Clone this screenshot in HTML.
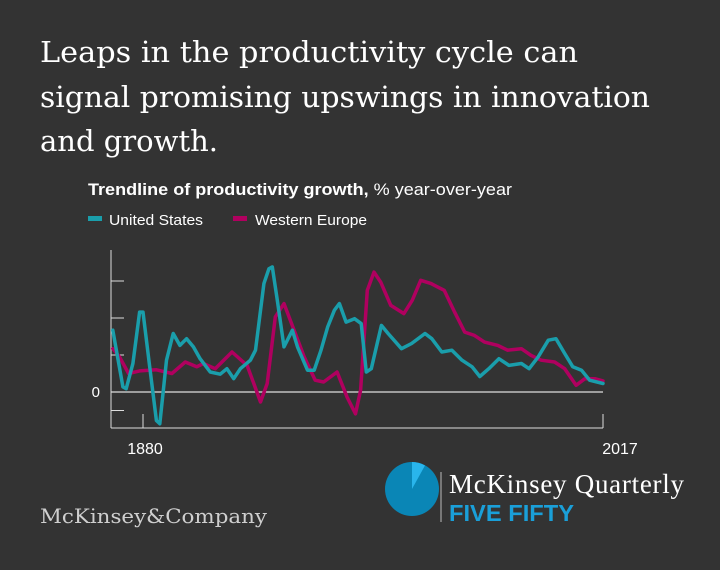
<!DOCTYPE html>
<html><head><meta charset="utf-8"><style>
html,body{margin:0;padding:0;background:#333333;}
svg{display:block;font-family:"Liberation Sans",sans-serif;}
</style></head><body>
<svg id="chart" width="720" height="570" viewBox="0 0 720 570">
<rect width="720" height="570" fill="#333333"/>
<g font-family="DejaVu Serif, serif" font-size="29" fill="#ffffff">
<text x="40" y="62" textLength="538" lengthAdjust="spacingAndGlyphs">Leaps in the productivity cycle can</text>
<text x="40" y="107" textLength="610" lengthAdjust="spacingAndGlyphs">signal promising upswings in innovation</text>
<text x="40" y="151" textLength="178" lengthAdjust="spacingAndGlyphs">and growth.</text>
</g>
<text x="88" y="195" font-size="16.5" fill="#fff" textLength="424" lengthAdjust="spacingAndGlyphs"><tspan font-weight="bold">Trendline of productivity growth,</tspan> % year-over-year</text>
<g>
<rect x="88" y="216" width="14" height="5" fill="#1a9eab"/>
<text x="109" y="225" font-size="15" fill="#fff" textLength="94" lengthAdjust="spacingAndGlyphs">United States</text>
<rect x="233" y="216" width="14" height="5" fill="#b0005f"/>
<text x="255" y="225" font-size="15" fill="#fff" textLength="112" lengthAdjust="spacingAndGlyphs">Western Europe</text>
</g>
<g id="plot"></g>
<g>
<circle cx="412" cy="489" r="27" fill="#0a86b6"/>
<path d="M412,489 L412,462 A27,27 0 0 1 425,465.5 Z" fill="#29b5ec"/>
<line x1="441" y1="472" x2="441" y2="522" stroke="#bbb" stroke-width="1"/>
<text x="449" y="493" font-family="Liberation Serif, serif" font-size="27" fill="#fff" textLength="235" lengthAdjust="spacing">McKinsey Quarterly</text>
<text x="449" y="521" font-size="23" font-weight="bold" fill="#1a9fd8" textLength="125" lengthAdjust="spacingAndGlyphs">FIVE FIFTY</text>
</g>
<text x="40" y="523" font-family="DejaVu Serif, serif" font-size="20" fill="#cfcfcf" textLength="227" lengthAdjust="spacingAndGlyphs">McKinsey&amp;Company</text>
</svg>
<script>
const usYears=[1871,1874,1875,1877,1879,1880,1882,1884,1885,1887,1889,1891,1893,1895,1897,1900,1903,1905,1907,1909,1912,1913.5,1916,1917.5,1918.5,1920,1922,1924.5,1926,1929,1931,1933,1935,1937,1938.5,1940.5,1943,1945,1946.5,1948,1951,1953,1957,1960,1964,1966,1969,1972,1975,1978,1980.3,1983,1986,1989,1992.7,1995,1997.7,2000.7,2003,2005.6,2008,2010.6,2013,2017];
const usValues=[1.67,0.14,0.09,0.77,2.16,2.16,0.68,-0.77,-0.86,0.86,1.58,1.26,1.44,1.22,0.9,0.54,0.48,0.63,0.36,0.63,0.86,1.13,2.93,3.33,3.38,2.48,1.22,1.67,1.22,0.59,0.59,1.13,1.76,2.21,2.39,1.89,1.98,1.85,0.54,0.63,1.8,1.58,1.17,1.31,1.58,1.44,1.08,1.13,0.86,0.68,0.42,0.63,0.9,0.72,0.77,0.63,0.95,1.4,1.44,1.04,0.68,0.59,0.32,0.23];
const weYears=[1871,1873,1875.7,1879,1884,1888.6,1892.6,1896,1898,1901.5,1906.5,1911,1913,1915,1917,1919.4,1922,1925,1928,1931.3,1933.8,1937.8,1940.8,1943.3,1944.8,1946.8,1948.8,1950.8,1953.8,1957.7,1960.2,1962.7,1965.8,1967.7,1969.7,1972.8,1975.8,1978.7,1981.7,1985.7,1988.6,1992.7,1995.6,1998.6,2002.6,2005.6,2009,2011.6,2014.6,2017];
const weValues=[1.17,0.95,0.5,0.57,0.6,0.5,0.81,0.68,0.77,0.63,1.08,0.72,0.23,-0.27,0.23,2.03,2.39,1.67,0.95,0.32,0.27,0.54,-0.14,-0.59,0.05,2.75,3.24,2.97,2.34,2.12,2.48,3.02,2.93,2.84,2.75,2.16,1.62,1.53,1.35,1.26,1.13,1.17,0.99,0.86,0.81,0.63,0.18,0.36,0.36,0.3];
const yTicks=[-0.5,1,2,3];
const xTickYears=[1880,2017];
const xTickLabels=["1880","2017"];
const NS="http://www.w3.org/2000/svg";
const X=y=>143+(y-1880)*(460/137);
const Y=v=>392-v*37;
const plot=document.getElementById('plot');
function mk(tag,attrs){const e=document.createElementNS(NS,tag);for(const k in attrs)e.setAttribute(k,attrs[k]);plot.appendChild(e);return e;}
const ya=mk('line',{x1:111,y1:250,x2:111,y2:428,stroke:'#ddd','stroke-width':1});


const xa=mk('line',{x1:111,y1:428,x2:X(2017),y2:428,stroke:'#ddd','stroke-width':1});


yTicks.forEach(v=>{const t=mk('line',{x1:111,y1:Y(v),x2:124,y2:Y(v),stroke:'#ddd','stroke-width':1});

});
const zl=mk('line',{x1:111,y1:Y(0),x2:X(2017),y2:Y(0),stroke:'#ddd','stroke-width':1.2});


const zt=mk('text',{x:100,y:Y(0)+5,'font-size':15,fill:'#fff','text-anchor':'end'});zt.textContent='0';


xTickYears.forEach((yr,i)=>{const t=mk('line',{x1:X(yr),y1:414,x2:X(yr),y2:428,stroke:'#ddd','stroke-width':1});


const l=mk('text',{x:X(yr)+(i?17:2),y:454,'font-size':16,fill:'#fff','text-anchor':'middle'});l.textContent=xTickLabels[i];

});
function line(xs,vs,color,name){const d=xs.map((x,i)=>(i?'L':'M')+X(x).toFixed(1)+','+Y(vs[i]).toFixed(1)).join(' ');
const p=mk('path',{d:d,fill:'none',stroke:color,'stroke-width':3.5,'stroke-linejoin':'round','stroke-linecap':'round'});

}
line(weYears,weValues,'#b0005f','series-western-europe');
line(usYears,usValues,'#1a9eab','series-united-states');
</script>
</body></html>
